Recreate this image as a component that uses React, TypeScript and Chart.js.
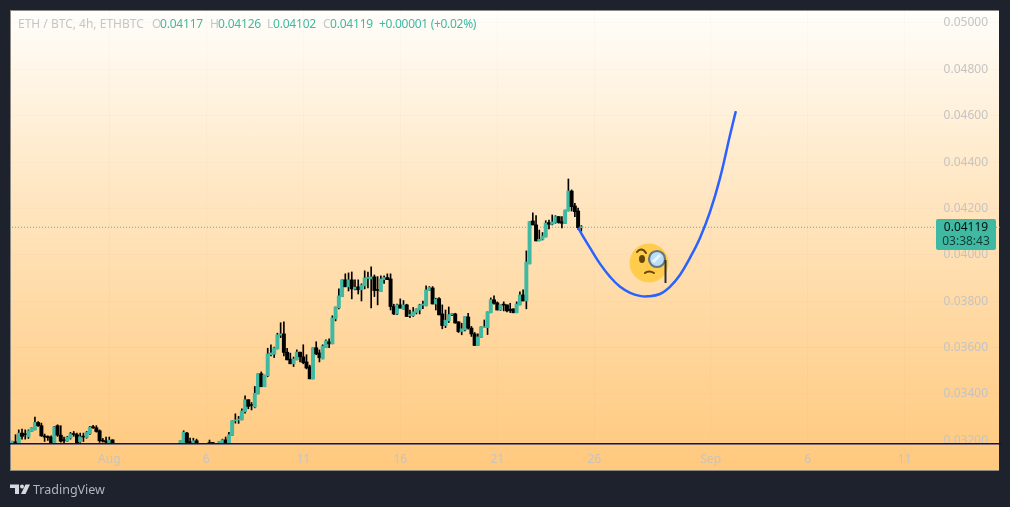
import React, { useEffect, useRef } from 'react';
import { Chart, registerables } from 'chart.js';

Chart.register(...registerables);

const n = null;
const FONT = '"Noto Sans", sans-serif';
const GREEN = '#40b9a3';

// 4h candles in 1/100000 BTC, one entry per bar, starting Jul 27. null = under the visible range
const opens = [
  3186, 3192, 3186, 3231, 3227, 3215, 3238, 3245, 3277, 3263,
  3219, 3215, 3214, 3186, 3263, 3222, 3199, 3196, 3209, 3228,
  3224, 3194, 3217, 3212, 3228, 3258, 3254, 3241, 3198, 3196,
  3186, 3202, n, n, n, n, n, n, n, n,
  n, n, n, n, n, n, n, n, n, n,
  n, n, 3186, 3186, 3231, 3194, 3186, 3198, n, n,
  n, 3187, 3187, n, 3186, 3186, 3202, 3189, 3221, 3284,
  3287, 3288, 3323, 3375, 3353, 3343, 3400, 3487, 3431, 3478,
  3569, 3571, 3594, 3653, 3659, 3580, 3550, 3530, 3547, 3580,
  3560, 3538, 3517, 3465, 3599, 3577, 3551, 3599, 3625, 3616,
  3724, 3771, 3819, 3892, 3862, 3892, 3852, 3862, 3849, 3866,
  3898, 3896, 3905, 3849, 3841, 3893, 3902, 3896, 3777, 3745,
  3784, 3765, 3784, 3738, 3737, 3751, 3762, 3783, 3780, 3846,
  3857, 3788, 3811, 3745, 3695, 3715, 3742, 3745, 3711, 3669,
  3676, 3732, 3684, 3659, 3609, 3643, 3686, 3686, 3750, 3806,
  3793, 3762, 3786, 3784, 3764, 3767, 3750, 3784, 3827, 3801,
  3961, 4146, 4129, 4060, 4067, 4077, 4139, 4132, 4139, 4165,
  4143, 4135, 4189, 4275, 4211, 4189, 4117,
];
const highs = [
  3196, 3224, 3245, 3248, 3245, 3245, 3255, 3300, 3281, 3274,
  3227, 3219, 3219, 3260, 3267, 3263, 3214, 3217, 3234, 3238,
  3231, 3231, 3231, 3238, 3260, 3265, 3263, 3245, 3208, 3214,
  3214, 3202, n, n, n, n, n, n, n, n,
  n, n, n, n, n, n, n, n, n, n,
  n, n, 3198, 3241, 3234, 3209, 3209, 3205, n, n,
  n, 3201, 3191, n, 3194, 3205, 3214, 3234, 3284, 3314,
  3303, 3336, 3392, 3375, 3363, 3432, 3487, 3495, 3481, 3597,
  3612, 3602, 3662, 3707, 3711, 3597, 3576, 3559, 3590, 3580,
  3612, 3569, 3524, 3599, 3625, 3590, 3612, 3633, 3638, 3737,
  3775, 3853, 3892, 3918, 3922, 3926, 3892, 3892, 3875, 3931,
  3926, 3948, 3913, 3906, 3909, 3909, 3918, 3918, 3787, 3787,
  3810, 3803, 3787, 3762, 3773, 3767, 3787, 3801, 3866, 3863,
  3863, 3813, 3816, 3784, 3762, 3775, 3748, 3748, 3711, 3705,
  3734, 3748, 3691, 3665, 3659, 3689, 3719, 3754, 3814, 3823,
  3797, 3784, 3797, 3784, 3791, 3767, 3797, 3840, 3849, 4017,
  4143, 4181, 4169, 4107, 4096, 4147, 4150, 4172, 4169, 4165,
  4165, 4193, 4327, 4280, 4222, 4202, 4126,
];
const lows = [
  3186, 3186, 3186, 3205, 3205, 3208, 3238, 3245, 3260, 3217,
  3195, 3199, 3186, 3186, 3217, 3192, 3186, 3195, 3205, 3217,
  3186, 3191, 3195, 3209, 3225, 3251, 3235, 3191, 3192, 3186,
  3186, 3186, n, n, n, n, n, n, n, n,
  n, n, n, n, n, n, n, n, n, n,
  n, n, 3186, 3186, 3186, 3186, 3186, 3186, n, n,
  n, 3186, 3186, n, 3186, 3186, 3186, 3189, 3221, 3274,
  3273, 3288, 3317, 3336, 3331, 3340, 3400, 3431, 3431, 3474,
  3564, 3557, 3594, 3643, 3564, 3547, 3530, 3518, 3547, 3538,
  3530, 3508, 3465, 3465, 3569, 3538, 3551, 3599, 3599, 3616,
  3715, 3767, 3819, 3862, 3844, 3810, 3849, 3831, 3801, 3853,
  3857, 3771, 3820, 3784, 3841, 3877, 3893, 3762, 3742, 3742,
  3770, 3765, 3734, 3729, 3734, 3745, 3745, 3768, 3780, 3846,
  3788, 3762, 3741, 3681, 3686, 3708, 3738, 3705, 3665, 3655,
  3672, 3679, 3648, 3609, 3609, 3643, 3686, 3656, 3750, 3787,
  3762, 3760, 3758, 3754, 3751, 3750, 3750, 3784, 3801, 3767,
  3961, 4129, 4060, 4060, 4064, 4077, 4112, 4129, 4136, 4136,
  4116, 4135, 4189, 4189, 4165, 4110, 4102,
];
const closes = [
  3196, 3189, 3231, 3217, 3224, 3241, 3255, 3277, 3263, 3219,
  3214, 3212, 3189, 3258, 3222, 3196, 3198, 3214, 3228, 3225,
  3189, 3215, 3214, 3234, 3257, 3254, 3238, 3198, 3196, 3192,
  3201, 3186, n, n, n, n, n, n, n, n,
  n, n, n, n, n, n, n, n, n, n,
  n, n, 3198, 3235, 3191, 3186, 3198, 3186, n, n,
  n, 3186, 3186, n, 3194, 3202, 3186, 3224, 3284, 3288,
  3291, 3327, 3375, 3346, 3350, 3403, 3487, 3431, 3481, 3573,
  3577, 3599, 3655, 3659, 3579, 3547, 3530, 3551, 3581, 3560,
  3535, 3512, 3465, 3599, 3573, 3556, 3606, 3629, 3616, 3728,
  3775, 3823, 3892, 3862, 3892, 3853, 3860, 3849, 3870, 3900,
  3903, 3905, 3846, 3846, 3896, 3902, 3893, 3777, 3745, 3784,
  3770, 3784, 3734, 3741, 3754, 3767, 3784, 3786, 3849, 3859,
  3788, 3809, 3741, 3695, 3718, 3742, 3745, 3706, 3669, 3681,
  3734, 3684, 3659, 3609, 3646, 3689, 3689, 3754, 3806, 3791,
  3762, 3784, 3783, 3758, 3760, 3750, 3788, 3827, 3801, 3969,
  4143, 4129, 4060, 4067, 4081, 4137, 4132, 4142, 4165, 4139,
  4136, 4193, 4275, 4208, 4186, 4117, 4119,
];

// hand drawn projection: bar number and price
const curveBars = [175, 178.7, 181.8, 184.9, 188, 191.1, 194.1, 196.6, 200.3, 203.4, 206.5, 209.6, 212.7, 215.8, 218.9, 222, 223.8];
const curvePrices = [4116, 4030, 3961, 3905, 3862, 3836, 3823, 3821, 3831, 3862, 3913, 3987, 4073, 4185, 4331, 4517, 4620];

const priceTicks = [3200, 3400, 3600, 3800, 4000, 4200, 4400, 4600, 4800, 5000];
const dateTicks = [30, 60, 90, 120, 150, 180, 216, 246, 276];
const dateLabels = ['Aug', '6', '11', '16', '21', '26', 'Sep', '6', '11'];
const lastPrice = 4119;

const headerParts = [
  { text: 'ETH / BTC, 4h, ETHBTC', left: 18, color: '#c5c6ca', spacing: 0 },
  { text: 'O', left: 152, color: '#c5c6ca', spacing: 0 },
  { text: '0.04117', left: 160, color: GREEN, spacing: -0.2 },
  { text: 'H', left: 210, color: '#c5c6ca', spacing: 0 },
  { text: '0.04126', left: 218, color: GREEN, spacing: -0.2 },
  { text: 'L', left: 267, color: '#c5c6ca', spacing: 0 },
  { text: '0.04102', left: 273, color: GREEN, spacing: -0.2 },
  { text: 'C', left: 323, color: '#c5c6ca', spacing: 0 },
  { text: '0.04119', left: 330, color: GREEN, spacing: -0.2 },
  { text: '+0.00001 (+0.02%)', left: 379, color: GREEN, spacing: -0.3 },
];

const price = (v: number) => v / 100000;

const noPadding = (scale: any) => {
  scale.paddingTop = 0;
  scale.paddingBottom = 0;
  scale.paddingLeft = 0;
  scale.paddingRight = 0;
};

const App: React.FC = () => {
  const canvasRef = useRef<HTMLCanvasElement>(null);

  useEffect(() => {
    if (!canvasRef.current) return;
    const bars = opens.map((o, i) => i).filter((i) => opens[i] !== null);
    const chart = new Chart(canvasRef.current, {
      type: 'bar',
      data: {
        datasets: [
          {
            type: 'line',
            data: curveBars.map((x, i) => ({ x, y: price(curvePrices[i]) })),
            borderColor: '#2962ff',
            borderWidth: 2.5,
            pointRadius: 0,
            tension: 0.4,
            order: 0,
          },
          {
            // candle bodies
            data: bars.map((i) => ({ x: i, y: [price(opens[i]!), price(closes[i]!)] })),
            backgroundColor: bars.map((i) => (closes[i]! >= opens[i]! ? GREEN : '#000000')),
            barThickness: 3.3,
            minBarLength: 1,
            grouped: false,
            order: 1,
          },
          {
            // wicks
            data: bars.map((i) => ({ x: i, y: [price(lows[i]!), price(highs[i]!)] })),
            backgroundColor: '#000000',
            barThickness: 1,
            grouped: false,
            order: 2,
          },
          {
            type: 'line',
            data: [
              { x: -1, y: price(lastPrice) },
              { x: 306, y: price(lastPrice) },
            ],
            borderColor: GREEN,
            borderWidth: 1.2,
            borderDash: [1, 2],
            pointRadius: 0,
            order: 3,
          },
        ],
      } as any,
      options: {
        responsive: false,
        animation: false,
        events: [],
        layout: { padding: { left: 10, right: 10, top: 10, bottom: 36 } },
        plugins: { legend: { display: false }, tooltip: { enabled: false } },
        scales: {
          x: {
            type: 'linear',
            offset: false,
            min: -0.71,
            max: 305.5,
            grid: { color: 'rgba(42,46,57,0.02)', offset: false, drawTicks: false },
            border: { color: '#0a1060', width: 1.5, z: 2 },
            afterFit: (scale: any) => {
              scale.height = 27;
              noPadding(scale);
            },
            afterBuildTicks: (scale: any) => {
              scale.ticks = dateTicks.map((value) => ({ value }));
            },
            ticks: {
              autoSkip: false,
              maxRotation: 0,
              padding: 8,
              color: '#c5c4c2',
              font: { family: FONT, size: 12 },
              callback: (value: any) => dateLabels[dateTicks.indexOf(value)],
            },
          },
          y: {
            type: 'linear',
            position: 'right',
            min: 0.03184,
            max: 0.05056,
            grid: { color: 'rgba(42,46,57,0.02)', drawTicks: false },
            border: { display: false },
            afterFit: (scale: any) => {
              scale.width = 0;
              noPadding(scale);
            },
            afterBuildTicks: (scale: any) => {
              scale.ticks = priceTicks.map((v) => ({ value: price(v) }));
            },
            ticks: {
              mirror: true,
              padding: -12,
              color: '#c5c4c2',
              font: { family: FONT, size: 12 },
              callback: (value: any) => Number(value).toFixed(5),
            },
          },
        },
      },
    } as any);
    return () => chart.destroy();
  }, []);

  return (
    <div style={{ position: 'fixed', left: 0, top: 0, width: 1010, height: 507, background: '#1e222d', overflow: 'hidden', fontFamily: FONT }}>
      <div
        style={{
          position: 'absolute',
          left: 10,
          top: 10,
          width: 989,
          height: 461,
          boxSizing: 'border-box',
          borderLeft: '1px solid #8d8a84',
          borderBottom: '1px solid #8d8a84',
          borderTop: '1px solid #8d8a84',
          background: 'linear-gradient(180deg, #fffefb 0%, #ffe9c8 35%, #ffd79e 70%, #ffc97e 100%)',
        }}
      />
      <canvas ref={canvasRef} width={1010} height={507} style={{ position: 'absolute', left: 0, top: 0, display: 'block' }} />
      {headerParts.map((p) => (
        <span key={p.left} style={{ position: 'absolute', left: p.left, top: 16, fontSize: 12, letterSpacing: p.spacing, lineHeight: '16px', color: p.color, whiteSpace: 'nowrap' }}>
          {p.text}
        </span>
      ))}
      <svg width={40} height={40} viewBox="0 0 40 40" style={{ position: 'absolute', left: 628.5, top: 243 }}>
        <circle cx={20} cy={20} r={19.5} fill="#ffcc4d" />
        <ellipse cx={13} cy={16} rx={3} ry={4} fill="#664500" />
        <path d="M8 9 C11 5 15 6 17 10" fill="none" stroke="#664500" strokeWidth={2} strokeLinecap="round" />
        <path d="M16 30 C18 28 22 28 25 30" fill="none" stroke="#664500" strokeWidth={2} strokeLinecap="round" />
        <circle cx={28} cy={16} r={8} fill="#bbddf5" stroke="#66757f" strokeWidth={2.2} />
        <path d="M24 19 L31 12" stroke="#e8f4fc" strokeWidth={3} />
        <path d="M36.5 17 V40" stroke="#292f33" strokeWidth={2} />
      </svg>
      <div style={{ position: 'absolute', left: 936, top: 219, width: 60, height: 31, background: GREEN, borderRadius: 2, textAlign: 'center', fontSize: 12, lineHeight: '14px', paddingTop: 1, boxSizing: 'border-box' }}>
        <div style={{ color: '#05110f' }}>0.04119</div>
        <div style={{ color: '#123c36' }}>03:38:43</div>
      </div>
      <svg width={24} height={14} viewBox="0 0 24 14" style={{ position: 'absolute', left: 9, top: 482 }}>
        <path d="M1 2.5 H10 V12 H6 V6 H1 Z" fill="#d6d8de" />
        <circle cx={13} cy={4.5} r={2} fill="#d6d8de" />
        <path d="M16.5 2.5 H21 L16.5 12 H12 Z" fill="#d6d8de" />
      </svg>
      <span style={{ position: 'absolute', left: 33, top: 481, fontSize: 12.5, lineHeight: '18px', color: '#b2b5be' }}>TradingView</span>
    </div>
  );
};

export default App;
